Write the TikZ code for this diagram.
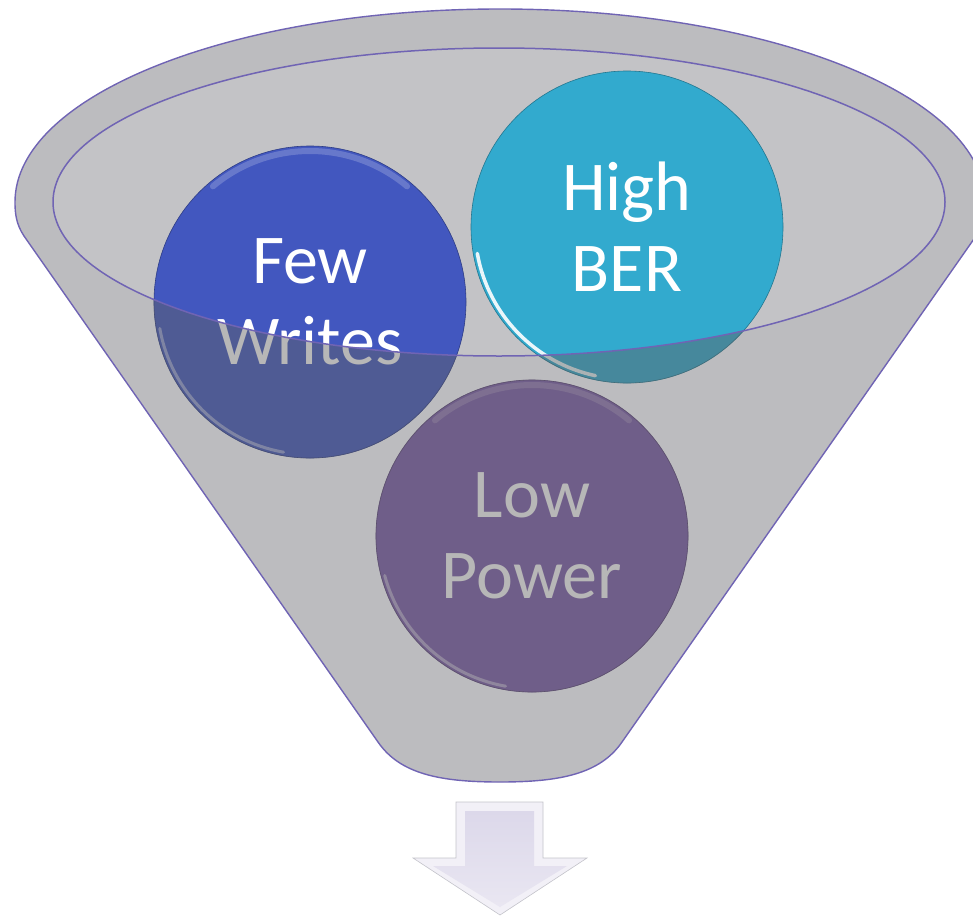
\documentclass[tikz,border=0pt]{standalone}
\usepackage{fontspec}
\setmainfont{Carlito}
\definecolor{funnelgray}{RGB}{188,188,191}
\definecolor{rimgray}{RGB}{195,195,198}
\definecolor{edgepurple}{RGB}{112,100,180}
\definecolor{fewblue}{RGB}{66,87,191}
\definecolor{berteal}{RGB}{50,170,206}
\definecolor{lowpurple}{RGB}{125,93,171}
\definecolor{veilgray}{RGB}{96,96,96}
\definecolor{arrowout}{RGB}{242,240,247}
\definecolor{arrowin}{RGB}{220,216,234}
\definecolor{arrowedge}{RGB}{195,195,202}
\begin{document}
\begin{tikzpicture}[x=1pt,y=-1pt,
  bubble/.style={circle, inner sep=0pt, minimum size=312pt, align=center,
    text=white, font=\fontsize{70}{81}\selectfont, line width=0.6pt},
  veil/.style={fill=veilgray, fill opacity=0.45},
  hl/.style={white, line width=3pt, opacity=0.45, line cap=round}]
\useasboundingbox (0,0) rectangle (973,918);
% funnel body
\path[fill=funnelgray, draw=edgepurple, line width=1.4pt]
  (378,742) -- (24,236) .. controls (16,224) and (15,213) .. (15,202)
  arc[start angle=180, end angle=360, x radius=485, y radius=193]
  .. controls (985,213) and (984,224) .. (976,236) -- (622,742)
  .. controls (600,774) and (560,782) .. (500,782)
  .. controls (440,782) and (400,774) .. cycle;
% opening
\fill[rimgray] (499,202) ellipse[x radius=446, y radius=154];
% circles
\node[bubble, fill=fewblue, draw=fewblue!70!black] (few) at (310,302) {Few\\Writes};
\node[bubble, fill=berteal, draw=berteal!70!black] (ber) at (627,227) {High\\BER};
\node[bubble, fill=lowpurple, draw=lowpurple!70!black] (low) at (532,536) {Low\\Power};
% highlights
\draw[hl, opacity=0.9, line width=3.5pt] (ber.center) ++(102:152) arc[start angle=102, end angle=170, radius=152];
\draw[hl] (few.center) ++(100:152.5) arc[start angle=100, end angle=170, radius=152.5];
\draw[hl, opacity=0.2, line width=6pt] (few.center) ++(230:151) arc[start angle=230, end angle=310, radius=151];
\draw[hl] (low.center) ++(100:152.5) arc[start angle=100, end angle=165, radius=152.5];
\draw[hl, opacity=0.2, line width=6pt] (low.center) ++(230:151) arc[start angle=230, end angle=310, radius=151];
% front of the funnel over the circles
\begin{scope}[even odd rule]
  \clip (0,0) rectangle (973,918) (499,202) ellipse[x radius=446, y radius=154];
  \fill[veil] (few.center) circle[radius=156.4];
  \fill[veil] (ber.center) circle[radius=156.4];
  \fill[veil] (low.center) circle[radius=156.4];
\end{scope}
% rim
\draw[edgepurple, line width=1.5pt] (499,202) ellipse[x radius=446, y radius=154];
% arrow
\path[fill=arrowout, draw=arrowedge, line width=0.6pt]
  (456,802) -- (543,802) -- (543,858) -- (587,858) -- (500,915) -- (413,858) -- (456,858) -- cycle;
\shade[top color=arrowin, bottom color=arrowout!60!arrowin]
  (465,811) -- (534,811) -- (534,866) -- (567,866) -- (500,907) -- (433,866) -- (465,866) -- cycle;
\end{tikzpicture}
\end{document}
